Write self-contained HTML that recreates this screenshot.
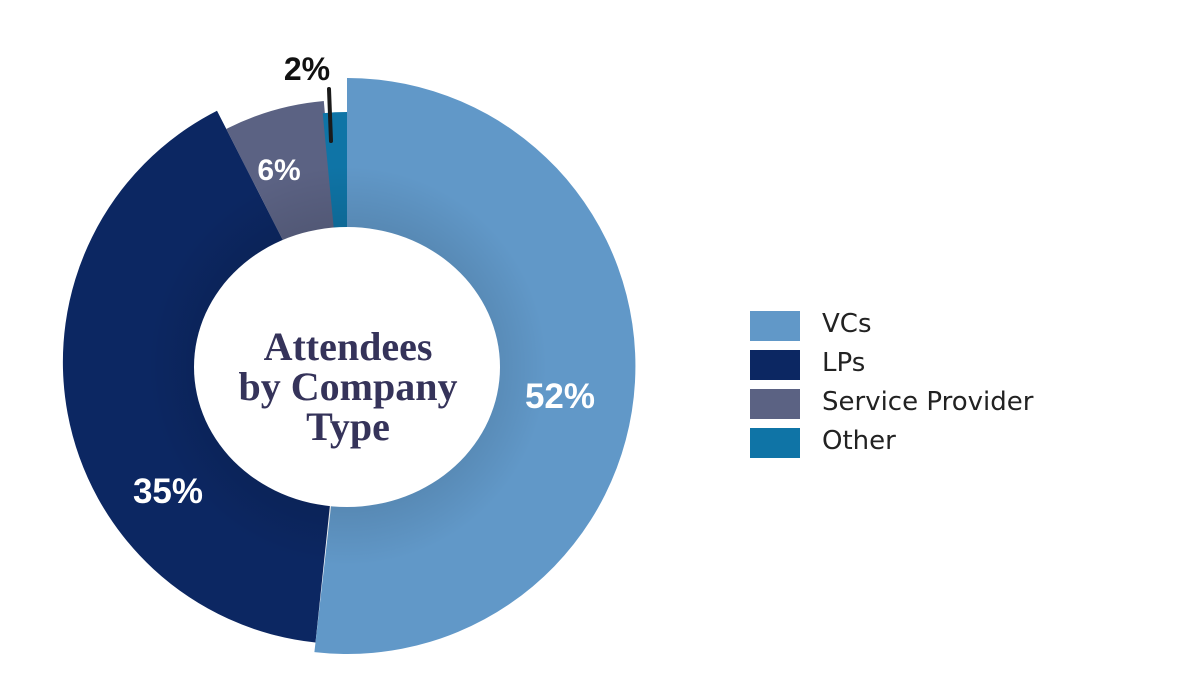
<!DOCTYPE html>
<html><head><meta charset="utf-8"><style>
html,body{margin:0;padding:0;background:#fff;width:1200px;height:700px;overflow:hidden}
.lg{position:absolute;left:750px;width:50px;height:30px}
.lt{position:absolute;left:822px;font-family:"DejaVu Sans","Liberation Sans",sans-serif;font-size:26px;color:#222}
</style></head><body>
<svg id="s" width="1200" height="700" style="position:absolute;left:0;top:0">
<defs><radialGradient id="sh" cx="347" cy="366" r="200" gradientUnits="userSpaceOnUse">
<stop offset="0.7" stop-color="#000" stop-opacity="0.1"/><stop offset="1" stop-color="#000" stop-opacity="0"/></radialGradient></defs>
<g id="g"></g>
<circle cx="347" cy="366" r="200" fill="url(#sh)"/>
<ellipse cx="347" cy="367" rx="153" ry="140" fill="#fff"/>
<line x1="329" y1="89" x2="331" y2="141" stroke="#1a1a1a" stroke-width="4" stroke-linecap="round"/>
<g font-family="'Liberation Sans',sans-serif" font-weight="bold" fill="#fff" text-anchor="middle">
<text x="560" y="408" font-size="35">52%</text>
<text x="168" y="503" font-size="35">35%</text>
<text x="279" y="180" font-size="30">6%</text>
<text x="307" y="80" font-size="32" fill="#111">2%</text>
</g>
<g font-family="'Liberation Serif',serif" font-weight="bold" fill="#35335a" text-anchor="middle" font-size="40">
<text x="348" y="360">Attendees</text>
<text x="348" y="400">by Company</text>
<text x="348" y="440">Type</text>
</g>
</svg>
<div class="lg" style="top:311px;background:#6198c8"></div><div class="lt" style="top:309px">VCs</div>
<div class="lg" style="top:350px;background:#0c2762"></div><div class="lt" style="top:348px">LPs</div>
<div class="lg" style="top:389px;background:#5b6283"></div><div class="lt" style="top:387px">Service Provider</div>
<div class="lg" style="top:428px;background:#0f74a6"></div><div class="lt" style="top:426px">Other</div>
<script>
function wedge(cx,cy,r,a0,a1,col){
 function p(a){var t=a*Math.PI/180;return [cx+r*Math.sin(t),cy-r*Math.cos(t)];}
 var s=p(a0),e=p(a1),la=(a1-a0)>180?1:0;
 return '<path d="M'+cx+' '+cy+' L'+s[0].toFixed(1)+' '+s[1].toFixed(1)+' A'+r+' '+r+' 0 '+la+' 1 '+e[0].toFixed(1)+' '+e[1].toFixed(1)+' Z" fill="'+col+'"/>';
}
var h='';
h+=wedge(345,362,282,186,333,'#0c2762');
h+=wedge(347,366,266,333,355,'#5b6283');
h+=wedge(347,366,254,354.5,360,'#0f74a6');
h+=wedge(347,366,288,0,186.5,'#6198c8');
document.getElementById('g').innerHTML=h;
</script>
</body></html>
